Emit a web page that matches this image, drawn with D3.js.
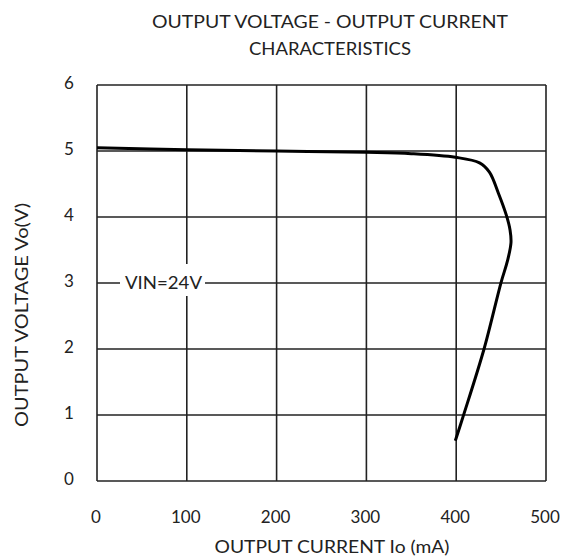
<!DOCTYPE html>
<html><head><meta charset="utf-8">
<script src="https://cdn.jsdelivr.net/npm/d3@7"></script>
<style>body{margin:0;background:#fff;} text{font-family:Lato,"Open Sans",sans-serif;fill:#222;}</style>
</head><body>
<svg id="c" width="564" height="559"></svg>
<script>
const titleLines = ["OUTPUT VOLTAGE - OUTPUT CURRENT", "CHARACTERISTICS"];
const xTicks = [0, 100, 200, 300, 400, 500];
const yTicks = [0, 1, 2, 3, 4, 5, 6];
const current = [0, 100, 200, 300, 350, 399, 426, 437, 447, 456, 460, 461, 457, 450, 431, 408, 399];
const voltage = [5.05, 5.02, 5.0, 4.98, 4.96, 4.905, 4.82, 4.68, 4.36, 4.02, 3.80, 3.61, 3.33, 3.01, 2.0, 0.99, 0.61];
const seriesLabel = "VIN=24V";
const labelVoltage = 3;
const xTitle = "OUTPUT CURRENT Io (mA)";
const yTitle = "OUTPUT VOLTAGE Vo(V)";

const svg = d3.select("#c");
const L = 97, R = 546, T = 85, B = 481;
const x = d3.scaleLinear().domain([0, 500]).range([L, R]);
const y = d3.scaleLinear().domain([0, 6]).range([B, T]);

// grid
const g = svg.append("g").attr("stroke", "#222").attr("stroke-width", 1.6);
g.selectAll("line.v").data(xTicks).join("line")
  .attr("x1", d => x(d)).attr("x2", d => x(d)).attr("y1", T).attr("y2", B);
g.selectAll("line.h").data(yTicks).join("line")
  .attr("x1", L).attr("x2", R).attr("y1", d => y(d)).attr("y2", d => y(d));

// tick labels
svg.append("g").selectAll("text").data(xTicks).join("text")
  .attr("x", d => x(d) - 1).attr("y", 523).attr("text-anchor", "middle")
  .attr("font-size", 17).text(d => d);
svg.append("g").selectAll("text").data(yTicks).join("text")
  .attr("x", 69).attr("y", d => y(d) + 4).attr("text-anchor", "middle")
  .attr("font-size", 17).text(d => d);

// series label with white box
const lbl = svg.append("g");
lbl.append("rect").attr("x", 120).attr("y", y(labelVoltage) - 19).attr("width", 85).attr("height", 32).attr("fill", "#fff");
lbl.append("text").attr("x", 125).attr("y", y(labelVoltage) + 6).attr("font-size", 17)
  .attr("textLength", 77).attr("lengthAdjust", "spacingAndGlyphs").text(seriesLabel);

// curve
const pts = current.map((c, i) => [c, voltage[i]]);
const line = d3.line().x(d => x(d[0])).y(d => y(d[1])).curve(d3.curveCatmullRom.alpha(0.5));
svg.append("path").datum(pts).attr("d", line).attr("fill", "none")
  .attr("stroke", "#000").attr("stroke-width", 3).attr("stroke-linejoin", "round");

// titles
const tLens = [356, 162];
svg.append("g").selectAll("text").data(titleLines).join("text")
  .attr("x", 330).attr("y", (d, i) => 28 + i * 27).attr("text-anchor", "middle")
  .attr("font-size", 17).attr("textLength", (d, i) => tLens[i]).attr("lengthAdjust", "spacingAndGlyphs").text(d => d);
svg.append("text").attr("x", 332).attr("y", 553).attr("text-anchor", "middle")
  .attr("font-size", 17).attr("textLength", 235).attr("lengthAdjust", "spacingAndGlyphs").text(xTitle);
svg.append("text").attr("transform", "translate(28,315) rotate(-90)").attr("text-anchor", "middle")
  .attr("font-size", 17).attr("textLength", 224).attr("lengthAdjust", "spacingAndGlyphs").text(yTitle);
</script>
</body></html>
